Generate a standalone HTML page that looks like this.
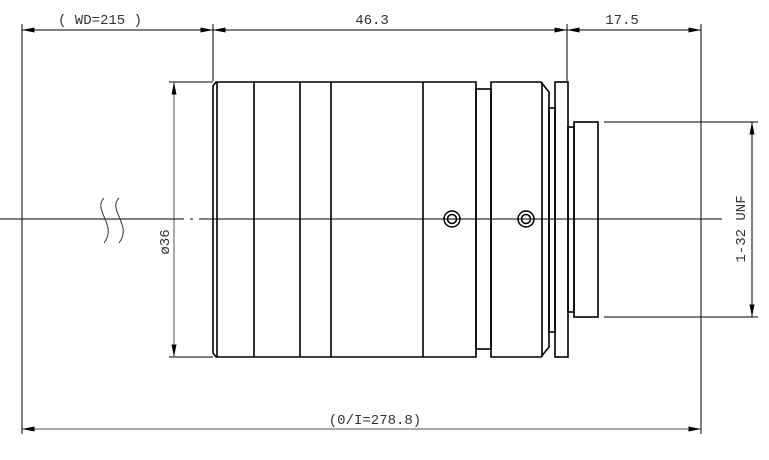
<!DOCTYPE html>
<html><head><style>body{margin:0;background:#fff}svg{display:block}</style></head><body>
<svg width="769" height="460" viewBox="0 0 769 460" xmlns="http://www.w3.org/2000/svg" font-family="'Liberation Mono','DejaVu Sans Mono',monospace">
<defs>
<marker id="a" viewBox="0 0 10 4" refX="10" refY="2" markerWidth="14" markerHeight="5" orient="auto-start-reverse" markerUnits="userSpaceOnUse"><path d="M0,0L10,2L0,4z" fill="#000"/></marker>
</defs>
<g stroke="#000" fill="none">
<!-- extension lines -->
<line x1="22" y1="24" x2="22" y2="434" stroke-width="1"/>
<line x1="213" y1="24" x2="213" y2="81" stroke-width="1"/>
<line x1="567" y1="24" x2="567" y2="81" stroke-width="1"/>
<line x1="701" y1="24" x2="701" y2="434" stroke-width="1"/>
<!-- top dims -->
<line x1="22" y1="30" x2="213" y2="30" marker-start="url(#a)" marker-end="url(#a)"/>
<line x1="213" y1="30" x2="567" y2="30" marker-start="url(#a)" marker-end="url(#a)"/>
<line x1="567" y1="30" x2="701" y2="30" marker-start="url(#a)" marker-end="url(#a)"/>
<!-- bottom dim -->
<line x1="22" y1="429" x2="701" y2="429" marker-start="url(#a)" marker-end="url(#a)" stroke="#555"/>
<!-- dia 36 -->
<line x1="169" y1="82" x2="213" y2="82"/>
<line x1="169" y1="357" x2="213" y2="357"/>
<line x1="174" y1="82" x2="174" y2="357" marker-start="url(#a)" marker-end="url(#a)" stroke="#555"/>
<!-- UNF -->
<line x1="604" y1="122" x2="758" y2="122"/>
<line x1="604" y1="317" x2="758" y2="317"/>
<line x1="752" y1="122" x2="752" y2="317" marker-start="url(#a)" marker-end="url(#a)"/>
<!-- center line -->
<line x1="0" y1="219" x2="172" y2="219" stroke-width="1"/>
<line x1="172" y1="219" x2="210" y2="219" stroke-dasharray="12,6,3,6"/>
<line x1="210" y1="219" x2="722" y2="219" stroke-width="1"/>
<!-- wavy break -->
<path d="M104,198 C92,210 118,225 104,243" stroke="#333"/>
<path d="M119,198 C107,210 133,225 119,243" stroke="#333"/>
<!-- body -->
<g stroke-width="1.6">
<path d="M216,82 L476,82 L476,357 L216,357 L213,353 L213,86 Z"/>
<line x1="217" y1="82" x2="217" y2="357"/>
<line x1="254" y1="82" x2="254" y2="357"/>
<line x1="300" y1="82" x2="300" y2="357"/>
<line x1="331" y1="82" x2="331" y2="357"/>
<line x1="423" y1="82" x2="423" y2="357"/>
<rect x="476" y="89" width="15" height="260"/>
<path d="M491,82 L541,82 L549,92 L549,347 L541,357 L491,357 Z"/>
<line x1="542" y1="82" x2="542" y2="357"/>
<rect x="549" y="108" width="6" height="224"/>
<rect x="555" y="82" width="13" height="275"/>
<rect x="568" y="127" width="6" height="185"/>
<rect x="574" y="122" width="24" height="195"/>
</g>
<circle cx="452" cy="219" r="8" stroke-width="1.5"/>
<circle cx="452" cy="219" r="4.5" stroke-width="1.5"/>
<circle cx="526" cy="219" r="8" stroke-width="1.5"/>
<circle cx="526" cy="219" r="4.5" stroke-width="1.5"/>
</g>
<g fill="#333" font-size="14">
<text x="100" y="24" text-anchor="middle">( WD=215 )</text>
<text x="372" y="24" text-anchor="middle">46.3</text>
<text x="622" y="24" text-anchor="middle">17.5</text>
<text x="375" y="424" text-anchor="middle">(0/I=278.8)</text>
<text transform="translate(169,242) rotate(-90)" text-anchor="middle">ø36</text>
<text transform="translate(745,229) rotate(-90)" text-anchor="middle">1-32 UNF</text>
</g>
</svg>
</body></html>
